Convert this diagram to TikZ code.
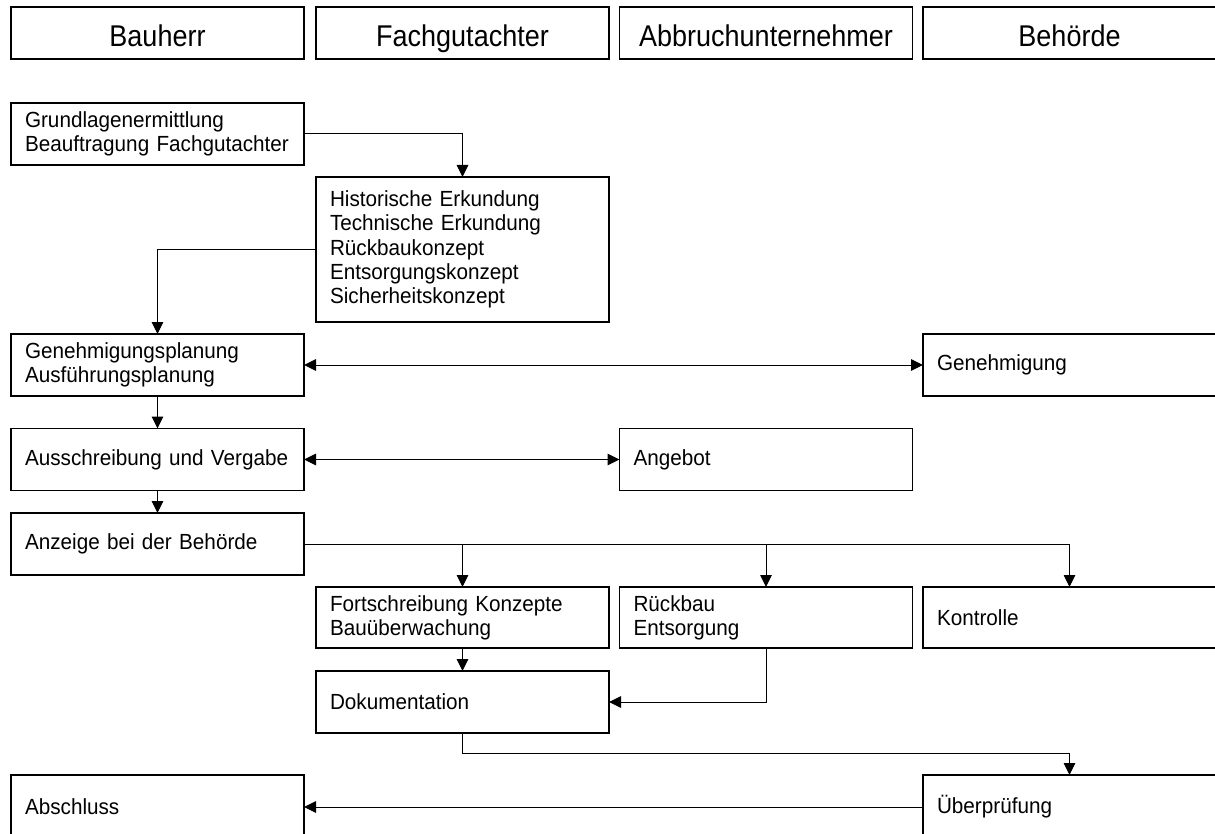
\documentclass[tikz,border=0pt]{standalone}
\usepackage{fontspec}
\setmainfont{Liberation Sans}
\newfontfamily\headfont[FakeStretch=0.9]{Liberation Sans}
\newfontfamily\bodyfont[FakeStretch=0.945]{Liberation Sans}
\usetikzlibrary{arrows.meta}

\begin{document}
\begin{tikzpicture}[
  x=1pt, y=-1pt,
  every node/.style={outer sep=0pt},
  head/.style={draw, line width=1.1pt, minimum width=293pt, minimum height=52pt,
    inner sep=0pt, align=center, text height=30pt, text depth=2.6pt,
    font=\headfont\fontsize{30}{32}\selectfont},
  box/.style={draw, line width=1.1pt, minimum width=293pt, minimum height=62pt,
    text width=265pt, inner xsep=14pt, inner ysep=0pt, align=left,
    font=\bodyfont\fontsize{21.9}{24.3}\selectfont},
  link/.style={line width=1pt, -{Triangle[length=12pt,width=11.5pt]}},
  dlink/.style={line width=1pt, {Triangle[length=12pt,width=11.5pt]}-{Triangle[length=12pt,width=11.5pt]}}
]
\useasboundingbox (0,0) rectangle (1215,834);

% swimlane headers
\node[head] (hBau) at (157.5,33) {Bauherr};
\node[head] (hFach) at (462.5,33) {Fachgutachter};
\node[head] (hAbb) at (766,33) {Abbruchunternehmer};
\node[head] (hBeh) at (1069.5,33) {Behörde};

% process steps
\node[box] (grund) at (157.5,134) {Grundlagenermittlung\\Beauftragung Fachgutachter};
\node[box, minimum height=145pt] (hist) at (462.5,249.5)
  {Historische Erkundung\\Technische Erkundung\\Rückbaukonzept\\Entsorgungskonzept\\Sicherheitskonzept};
\node[box] (genplan) at (157.5,365) {Genehmigungsplanung\\Ausführungsplanung};
\node[box] (gen) at (1069.5,365) {Genehmigung};
\node[box] (aus) at (157.5,459.5) {Ausschreibung und Vergabe};
\node[box] (ang) at (766,459.5) {Angebot};
\node[box] (anz) at (157.5,544) {Anzeige bei der Behörde};
\node[box, minimum height=61pt] (fort) at (462.5,617.5) {Fortschreibung Konzepte\\Bauüberwachung};
\node[box, minimum height=61pt] (rueck) at (766,617.5) {Rückbau\\Entsorgung};
\node[box, minimum height=61pt] (kontr) at (1069.5,617.5) {Kontrolle};
\node[box] (dok) at (462.5,702) {Dokumentation};
\node[box, minimum height=64pt] (absch) at (157.5,807) {Abschluss};
\node[box, minimum height=64pt] (uebp) at (1069.5,807) {Überprüfung};

% connectors
\draw[link] (grund.east) -| (hist.north);
\draw[link] (hist.west) -| (genplan.north);
\draw[dlink] (genplan.east) -- (gen.west);
\draw[link] (genplan.south) -- (aus.north);
\draw[dlink] (aus.east) -- (ang.west);
\draw[link] (aus.south) -- (anz.north);
\draw[link] (anz.east) -| (kontr.north);
\draw[link] (anz.east -| fort.north) -- (fort.north);
\draw[link] (anz.east -| rueck.north) -- (rueck.north);
\draw[link] (fort.south) -- (dok.north);
\draw[link] (rueck.south) |- (dok.east);
\draw[link] (dok.south) -- ++(0,20) -| (uebp.north);
\draw[link] (uebp.west) -- (absch.east);
\end{tikzpicture}
\end{document}
